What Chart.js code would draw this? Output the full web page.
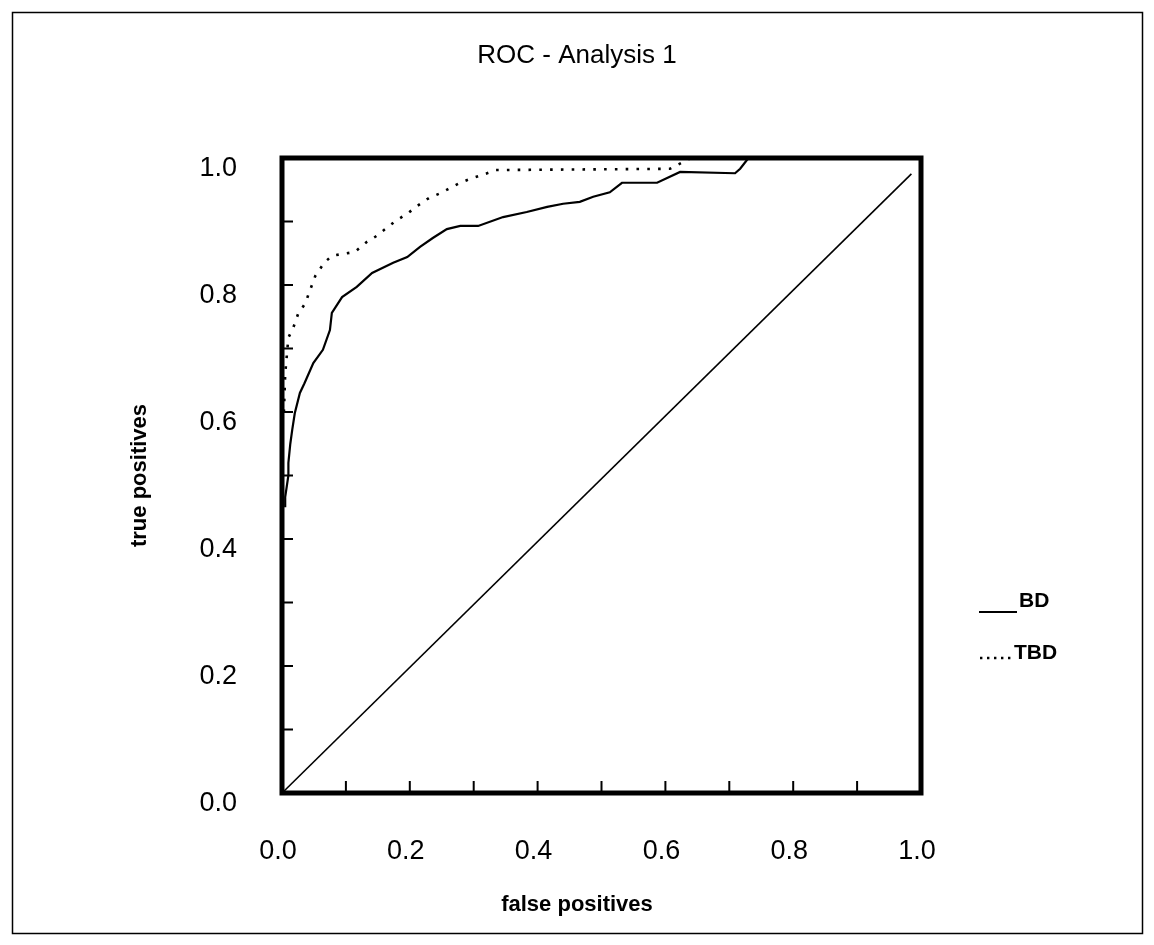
<!DOCTYPE html>
<html>
<head>
<meta charset="utf-8">
<title>ROC - Analysis 1</title>
<script src="https://cdn.jsdelivr.net/npm/chart.js@4.4.1/dist/chart.umd.min.js"></script>
<style>
  html, body { margin: 0; padding: 0; background: #fff; }
  canvas { display: block; }
</style>
</head>
<body>
<canvas id="chartRoc" width="1154" height="945"></canvas>
<script>
// ROC - Analysis 1, curvas BD y TBD
const bdFpr = [0.005, 0.005, 0.010, 0.010, 0.013, 0.016, 0.020, 0.028, 0.035, 0.049, 0.064, 0.075, 0.078, 0.094,
               0.117, 0.141, 0.174, 0.196, 0.216, 0.236, 0.258, 0.279, 0.307, 0.346, 0.383, 0.415, 0.440, 0.466,
               0.487, 0.513, 0.532, 0.587, 0.623, 0.709, 0.717, 0.730, 1.000];
const bdTpr = [0.450, 0.466, 0.500, 0.520, 0.550, 0.572, 0.598, 0.630, 0.645, 0.677, 0.698, 0.729, 0.756, 0.781,
               0.797, 0.819, 0.835, 0.844, 0.860, 0.874, 0.888, 0.893, 0.893, 0.907, 0.915, 0.923, 0.928, 0.931,
               0.939, 0.946, 0.961, 0.961, 0.978, 0.976, 0.983, 1.000, 1.000];

const tbdFpr = [0.003, 0.005, 0.010, 0.018, 0.021, 0.025, 0.037, 0.041, 0.048, 0.052, 0.066, 0.078, 0.096, 0.114,
                0.133, 0.146, 0.164, 0.178, 0.197, 0.211, 0.230, 0.249, 0.260, 0.279, 0.297, 0.321, 0.335, 0.607,
                0.640, 1.000];
const tbdTpr = [0.600, 0.660, 0.717, 0.734, 0.742, 0.754, 0.772, 0.784, 0.803, 0.814, 0.835, 0.846, 0.849, 0.852,
                0.868, 0.876, 0.890, 0.901, 0.913, 0.924, 0.937, 0.945, 0.951, 0.961, 0.968, 0.976, 0.981, 0.983,
                1.000, 1.000];

// diagonal de referencia
const chanceFpr = [0, 0.985];
const chanceTpr = [0, 0.975];

const seriesNames = ['BD', 'TBD'];
const titleText = 'ROC - Analysis 1';
const xTitle = 'false positives';
const yTitle = 'true positives';

const toPoints = (xs, ys) => xs.map((v, i) => ({ x: v, y: ys[i] }));
const tickLabel = v => (Math.round(v * 10) % 2 === 0 ? v.toFixed(1) : '');

const paperPlugin = {
  id: 'paper',
  beforeDraw(chart) {
    const ctx = chart.ctx;
    ctx.save();
    ctx.fillStyle = '#fff';
    ctx.fillRect(0, 0, chart.width, chart.height);
    ctx.restore();
  },
  afterDraw(chart) {
    const { ctx, chartArea: a, scales: { x, y } } = chart;
    ctx.save();
    ctx.strokeStyle = '#000';
    // ticks hacia adentro
    ctx.lineWidth = 2;
    ctx.beginPath();
    x.ticks.forEach(t => {
      if (t.value <= 0 || t.value >= 1) return;
      const px = x.getPixelForValue(t.value);
      ctx.moveTo(px, a.bottom);
      ctx.lineTo(px, a.bottom - 12);
    });
    y.ticks.forEach(t => {
      if (t.value <= 0 || t.value >= 1) return;
      const py = y.getPixelForValue(t.value);
      ctx.moveTo(a.left, py);
      ctx.lineTo(a.left + 11, py);
    });
    ctx.stroke();
    // caja del grafico
    ctx.lineWidth = 5;
    ctx.strokeRect(a.left, a.top, a.right - a.left, a.bottom - a.top);
    // marco exterior
    ctx.lineWidth = 1.5;
    ctx.strokeRect(12.5, 12.5, 1130, 921);
    // leyenda
    ctx.font = 'bold 21px "Liberation Sans", Arial, sans-serif';
    ctx.fillStyle = '#000';
    ctx.textBaseline = 'alphabetic';
    const legendRows = [
      { ds: 0, y: 607, lineY: 612, x0: 979, x1: 1017, dash: [] },
      { ds: 1, y: 659, lineY: 658, x0: 980, x1: 1012, dash: [2.4, 4.6] }
    ];
    legendRows.forEach(r => {
      const ds = chart.data.datasets[r.ds];
      ctx.lineWidth = ds.borderWidth;
      ctx.setLineDash(r.dash);
      ctx.beginPath();
      ctx.moveTo(r.x0, r.lineY);
      ctx.lineTo(r.x1, r.lineY);
      ctx.stroke();
      ctx.setLineDash([]);
      ctx.fillText(ds.label, r.x1 + 2, r.y);
    });
    ctx.restore();
  }
};

const tickFont = { family: '"Liberation Sans Narrow", "Liberation Sans", Arial, sans-serif', size: 27 };
const axisTitleFont = { family: '"Liberation Sans", Arial, sans-serif', size: 22, weight: 'bold' };

const ctx = document.getElementById('chartRoc').getContext('2d');
new Chart(ctx, {
  type: 'line',
  data: {
    datasets: [
      {
        label: seriesNames[0],
        data: toPoints(bdFpr, bdTpr),
        borderColor: '#000',
        borderWidth: 2.2,
        pointRadius: 0,
        fill: false,
        tension: 0
      },
      {
        label: seriesNames[1],
        data: toPoints(tbdFpr, tbdTpr),
        borderColor: '#000',
        borderWidth: 2.6,
        borderDash: [2.6, 8.2],
        pointRadius: 0,
        fill: false,
        tension: 0
      },
      {
        label: 'chance',
        data: toPoints(chanceFpr, chanceTpr),
        borderColor: '#000',
        borderWidth: 1.6,
        pointRadius: 0,
        fill: false,
        tension: 0
      }
    ]
  },
  options: {
    responsive: false,
    animation: false,
    devicePixelRatio: 1,
    layout: { padding: 0, autoPadding: false },
    plugins: {
      legend: { display: false },
      tooltip: { enabled: false },
      title: {
        display: true,
        text: titleText,
        color: '#000',
        font: { family: '"Liberation Sans", Arial, sans-serif', size: 26, weight: 'normal' },
        padding: { top: 40.4, bottom: 86.4 }
      },
      subtitle: {
        display: true,
        position: 'bottom',
        text: xTitle,
        color: '#000',
        font: axisTitleFont,
        padding: { top: 0, bottom: 26.8 }
      }
    },
    scales: {
      x: {
        type: 'linear',
        min: 0,
        max: 1,
        grid: { display: false, drawTicks: false },
        border: { display: false },
        ticks: { stepSize: 0.1, autoSkip: false, maxRotation: 0, padding: 42, labelOffset: -4,
                 color: '#000', font: tickFont, callback: tickLabel },
        afterFit: s => { s.height = 98.8; }
      },
      y: {
        type: 'linear',
        min: 0,
        max: 1,
        grid: { display: false, drawTicks: false },
        border: { display: false },
        ticks: { stepSize: 0.1, autoSkip: false, padding: 45, labelOffset: 11,
                 color: '#000', font: tickFont, callback: tickLabel },
        title: { display: true, text: yTitle, color: '#000', font: axisTitleFont, padding: { top: 127, bottom: 0 } },
        afterFit: s => { s.width = 282; }
      },
      // espacio a la derecha para la leyenda
      y2: {
        type: 'linear',
        position: 'right',
        min: 0,
        max: 1,
        grid: { display: false, drawTicks: false },
        border: { display: false },
        ticks: { display: false },
        afterFit: s => { s.width = 233; }
      }
    }
  },
  plugins: [paperPlugin]
});
</script>
</body>
</html>
